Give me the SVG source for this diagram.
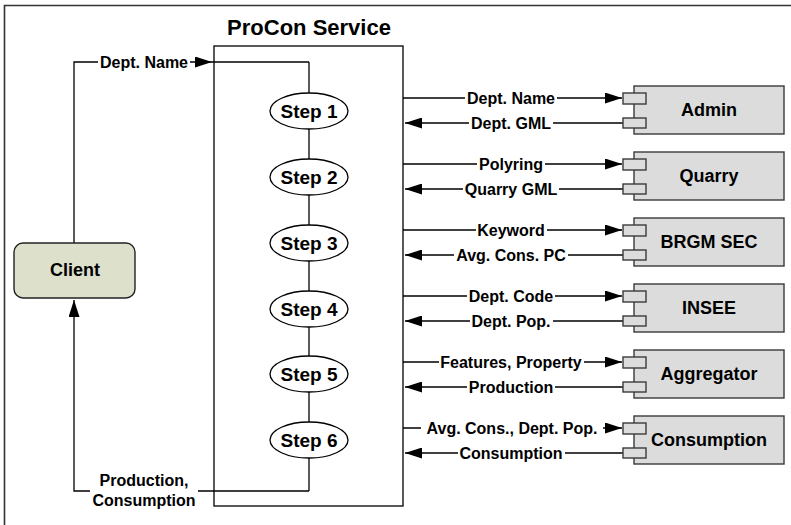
<svg xmlns="http://www.w3.org/2000/svg" width="791" height="525" viewBox="0 0 791 525">
<style>
.ln{fill:none;stroke:#000;stroke-width:1.3}
.lbl{font-family:"Liberation Sans",Arial,sans-serif;font-weight:bold;font-size:16px;fill:#000;text-anchor:middle}
.bg{fill:#fff}
.step{fill:#fff;stroke:#000;stroke-width:1.3}
.stxt{font-family:"Liberation Sans",Arial,sans-serif;font-weight:bold;font-size:19px;fill:#000;text-anchor:middle}
.comp{fill:#dcdcdc;stroke:#3a3a3a;stroke-width:1.4}
.ctxt{font-family:"Liberation Sans",Arial,sans-serif;font-weight:bold;font-size:18px;fill:#000;text-anchor:middle}
</style>
<defs>
<marker id="ah" viewBox="0 0 17 11" refX="17" refY="5.5" markerWidth="17" markerHeight="11" markerUnits="userSpaceOnUse" orient="auto">
<path d="M0,0 L17,5.5 L0,11 Z" fill="#000"/>
</marker>
</defs>
<rect width="791" height="525" fill="#fff"/>
<path d="M4.5,525 V5.5 H791" fill="none" stroke="#333" stroke-width="1.6"/>

<g id="procon">
<rect x="214" y="46" width="189" height="460" fill="none" stroke="#000" stroke-width="1.3"/>
<text x="309" y="35" font-family="Liberation Sans,Arial,sans-serif" font-weight="bold" font-size="22" text-anchor="middle">ProCon Service</text>
</g>

<g id="connectors">
<line class="ln" x1="309" y1="62" x2="309" y2="491"/>
<path class="ln" d="M74,243 V62 H212" marker-end="url(#ah)"/>
<path class="ln" d="M212,62 H309"/>
<rect class="bg" x="98" y="54" width="92" height="16"/>
<text class="lbl" x="144" y="68">Dept. Name</text>
<path class="ln" d="M309,491 H74 V300" marker-end="url(#ah)"/>
<rect class="bg" x="90" y="471" width="108" height="38"/>
<text class="lbl" x="144" y="486">Production,</text>
<text class="lbl" x="144" y="506">Consumption</text>

<line class="ln" x1="403" y1="98" x2="622" y2="98" marker-end="url(#ah)"/>
<line class="ln" x1="623" y1="123" x2="405" y2="123" marker-end="url(#ah)"/>
<line class="ln" x1="403" y1="164" x2="622" y2="164" marker-end="url(#ah)"/>
<line class="ln" x1="623" y1="189" x2="405" y2="189" marker-end="url(#ah)"/>
<line class="ln" x1="403" y1="230" x2="622" y2="230" marker-end="url(#ah)"/>
<line class="ln" x1="623" y1="255" x2="405" y2="255" marker-end="url(#ah)"/>
<line class="ln" x1="403" y1="296" x2="622" y2="296" marker-end="url(#ah)"/>
<line class="ln" x1="623" y1="321" x2="405" y2="321" marker-end="url(#ah)"/>
<line class="ln" x1="403" y1="362" x2="622" y2="362" marker-end="url(#ah)"/>
<line class="ln" x1="623" y1="387" x2="405" y2="387" marker-end="url(#ah)"/>
<line class="ln" x1="403" y1="428" x2="622" y2="428" marker-end="url(#ah)"/>
<line class="ln" x1="623" y1="453" x2="405" y2="453" marker-end="url(#ah)"/>

<rect class="bg" x="465" y="90" width="92" height="16"/>
<text class="lbl" x="511" y="104">Dept. Name</text>
<rect class="bg" x="469" y="115" width="84" height="16"/>
<text class="lbl" x="511" y="129">Dept. GML</text>
<rect class="bg" x="477" y="156" width="68" height="16"/>
<text class="lbl" x="511" y="170">Polyring</text>
<rect class="bg" x="463" y="181" width="96" height="16"/>
<text class="lbl" x="511" y="195">Quarry GML</text>
<rect class="bg" x="476" y="222" width="71" height="16"/>
<text class="lbl" x="511" y="236">Keyword</text>
<rect class="bg" x="454" y="247" width="114" height="16"/>
<text class="lbl" x="511" y="261">Avg. Cons. PC</text>
<rect class="bg" x="467" y="288" width="88" height="16"/>
<text class="lbl" x="511" y="302">Dept. Code</text>
<rect class="bg" x="470" y="313" width="83" height="16"/>
<text class="lbl" x="511" y="327">Dept. Pop.</text>
<rect class="bg" x="439" y="354" width="145" height="16"/>
<text class="lbl" x="511" y="368">Features, Property</text>
<rect class="bg" x="467" y="379" width="88" height="16"/>
<text class="lbl" x="511" y="393">Production</text>
<rect class="bg" x="421" y="420" width="182" height="16"/>
<text class="lbl" x="512" y="434">Avg. Cons., Dept. Pop.</text>
<rect class="bg" x="458" y="445" width="107" height="16"/>
<text class="lbl" x="511" y="459">Consumption</text>
</g>

<g id="client">
<rect x="14" y="243" width="121" height="55" rx="9" fill="#dde1cc" stroke="#222" stroke-width="1.4"/>
<text class="ctxt" x="75" y="276">Client</text>
</g>

<g id="step1"><ellipse class="step" cx="309" cy="111" rx="39" ry="18"/><text class="stxt" x="309" y="118">Step 1</text></g>
<g id="step2"><ellipse class="step" cx="309" cy="177" rx="39" ry="18"/><text class="stxt" x="309" y="184">Step 2</text></g>
<g id="step3"><ellipse class="step" cx="309" cy="243" rx="39" ry="18"/><text class="stxt" x="309" y="250">Step 3</text></g>
<g id="step4"><ellipse class="step" cx="309" cy="309" rx="39" ry="18"/><text class="stxt" x="309" y="316">Step 4</text></g>
<g id="step5"><ellipse class="step" cx="309" cy="374" rx="39" ry="18"/><text class="stxt" x="309" y="381">Step 5</text></g>
<g id="step6"><ellipse class="step" cx="309" cy="440" rx="39" ry="18"/><text class="stxt" x="309" y="447">Step 6</text></g>

<g id="admin">
<rect class="comp" x="634" y="86" width="150" height="48"/>
<rect class="comp" x="623" y="93" width="23" height="11"/>
<rect class="comp" x="623" y="118" width="23" height="10"/>
<text class="ctxt" x="709" y="116">Admin</text>
</g>
<g id="quarry">
<rect class="comp" x="634" y="152" width="150" height="48"/>
<rect class="comp" x="623" y="159" width="23" height="11"/>
<rect class="comp" x="623" y="184" width="23" height="10"/>
<text class="ctxt" x="709" y="182">Quarry</text>
</g>
<g id="brgm">
<rect class="comp" x="634" y="218" width="150" height="48"/>
<rect class="comp" x="623" y="225" width="23" height="11"/>
<rect class="comp" x="623" y="250" width="23" height="10"/>
<text class="ctxt" x="709" y="248">BRGM SEC</text>
</g>
<g id="insee">
<rect class="comp" x="634" y="284" width="150" height="48"/>
<rect class="comp" x="623" y="291" width="23" height="11"/>
<rect class="comp" x="623" y="316" width="23" height="10"/>
<text class="ctxt" x="709" y="314">INSEE</text>
</g>
<g id="aggregator">
<rect class="comp" x="634" y="350" width="150" height="48"/>
<rect class="comp" x="623" y="357" width="23" height="11"/>
<rect class="comp" x="623" y="382" width="23" height="10"/>
<text class="ctxt" x="709" y="380">Aggregator</text>
</g>
<g id="consumption">
<rect class="comp" x="634" y="416" width="150" height="48"/>
<rect class="comp" x="623" y="423" width="23" height="11"/>
<rect class="comp" x="623" y="448" width="23" height="10"/>
<text class="ctxt" x="709" y="446">Consumption</text>
</g>
</svg>
